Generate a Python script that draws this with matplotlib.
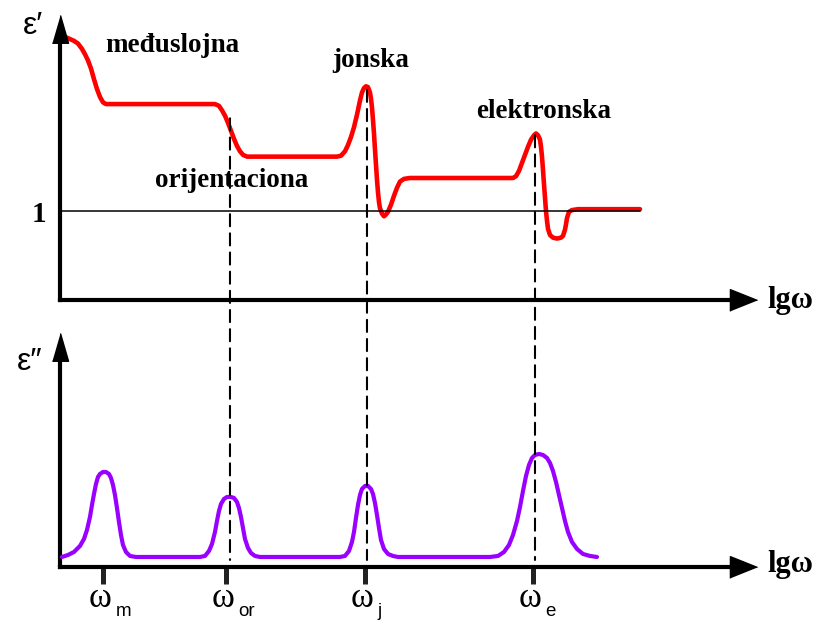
"""
    Dielectric dispersion sketch: eps' and eps'' versus lg(omega)
"""

import matplotlib
matplotlib.use("Agg")
from matplotlib import pyplot as plt
from matplotlib.patches import ConnectionPatch

# Data (lg omega in arbitrary units)

# eps' (real part), red curve
lgw_re = [0.02, 0.06, 0.10, 0.14, 0.18, 0.22, 0.25, 0.28, 0.31, 0.34, 0.37, 0.40, 0.43, 0.46, 0.50,
          1.55, 1.59, 1.62, 1.65, 1.68, 1.71, 1.74, 1.77, 1.80, 1.83, 1.87, 1.90,
          2.77, 2.81, 2.85, 2.88, 2.91, 2.94, 2.97, 3.00, 3.02, 3.04, 3.06, 3.08,
          3.10, 3.11, 3.12, 3.13, 3.14, 3.15, 3.16, 3.17, 3.18, 3.19, 3.20, 3.22,
          3.24, 3.26, 3.28, 3.31, 3.34, 3.37, 3.40, 3.44, 3.50,
          4.53, 4.56, 4.59, 4.62, 4.65, 4.68, 4.71, 4.74, 4.76, 4.78, 4.80, 4.81,
          4.82, 4.83, 4.84, 4.85, 4.86, 4.87, 4.88, 4.90, 4.93, 4.97, 5.01, 5.03,
          5.05, 5.06, 5.07, 5.09, 5.12, 5.18, 5.80]
eps_re = [2.96, 2.95, 2.93, 2.91, 2.88, 2.82, 2.76, 2.69, 2.60, 2.48, 2.37, 2.28, 2.22, 2.20, 2.20,
          2.20, 2.18, 2.13, 2.07, 1.99, 1.90, 1.81, 1.73, 1.67, 1.63, 1.61, 1.61,
          1.61, 1.62, 1.67, 1.74, 1.83, 1.94, 2.08, 2.24, 2.33, 2.38, 2.40, 2.39,
          2.33, 2.26, 2.16, 2.02, 1.87, 1.69, 1.52, 1.35, 1.21, 1.10, 1.03, 0.97,
          0.94, 0.96, 0.99, 1.07, 1.17, 1.26, 1.33, 1.36, 1.37,
          1.37, 1.39, 1.45, 1.54, 1.63, 1.72, 1.80, 1.85, 1.87, 1.85, 1.80, 1.72,
          1.61, 1.46, 1.30, 1.15, 1.00, 0.89, 0.80, 0.73, 0.70, 0.69, 0.70, 0.72,
          0.79, 0.85, 0.92, 0.99, 1.01, 1.02, 1.02]

# eps'' (imaginary part), purple curve
lgw_im = [0.02, 0.08, 0.14, 0.20, 0.24, 0.27, 0.30, 0.32, 0.34, 0.36, 0.38, 0.40, 0.43,
          0.46, 0.49, 0.51, 0.53, 0.55, 0.57, 0.59, 0.61, 0.63, 0.66, 0.70, 0.76,
          1.40, 1.45, 1.49, 1.52, 1.55, 1.57, 1.59, 1.61, 1.64, 1.67, 1.71, 1.74,
          1.77, 1.79, 1.81, 1.83, 1.85, 1.88, 1.91, 1.95, 2.00,
          2.80, 2.85, 2.89, 2.92, 2.94, 2.96, 2.98, 3.00, 3.02, 3.05, 3.08, 3.11,
          3.13, 3.15, 3.17, 3.19, 3.21, 3.24, 3.28, 3.33, 3.38,
          4.30, 4.38, 4.44, 4.49, 4.53, 4.57, 4.60, 4.63, 4.66, 4.69, 4.72, 4.75,
          4.79, 4.83, 4.87, 4.90, 4.93, 4.96, 4.99, 5.02, 5.05, 5.08, 5.12, 5.17,
          5.23, 5.30, 5.37]
eps_im = [0.10, 0.12, 0.15, 0.21, 0.28, 0.37, 0.50, 0.62, 0.73, 0.83, 0.90, 0.93, 0.95,
          0.95, 0.93, 0.89, 0.82, 0.72, 0.59, 0.45, 0.32, 0.22, 0.15, 0.11, 0.10,
          0.10, 0.11, 0.16, 0.23, 0.35, 0.46, 0.56, 0.63, 0.68, 0.70, 0.70, 0.69,
          0.65, 0.59, 0.50, 0.39, 0.28, 0.19, 0.14, 0.11, 0.10,
          0.10, 0.11, 0.16, 0.25, 0.35, 0.49, 0.62, 0.72, 0.78, 0.81, 0.81, 0.78,
          0.73, 0.64, 0.52, 0.39, 0.27, 0.18, 0.13, 0.11, 0.10,
          0.10, 0.11, 0.15, 0.22, 0.32, 0.46, 0.60, 0.76, 0.91, 1.02, 1.09, 1.12,
          1.13, 1.12, 1.09, 1.04, 0.96, 0.85, 0.72, 0.59, 0.46, 0.35, 0.25, 0.18,
          0.13, 0.11, 0.10]

# Resonance frequencies (ticks) and their labels
omega_ticks = [0.43, 1.66, 3.05, 4.73]
omega_subs = ["m", "or", "j", "e"]

# Dashed guides: x position and top end on the eps' curve
guide_x = [1.70, 3.07, 4.75]
guide_top = [2.04, 2.36, 1.85]

# Mechanism labels: (text, x, baseline y)
mechanisms = [("međuslojna", 1.12, 2.78),
              ("jonska", 3.11, 2.62),
              ("elektronska", 4.84, 2.04),
              ("orijentaciona", 1.72, 1.27)]

RED = '#ff0000'
PURPLE = '#9a00ff'
SERIF = 'Liberation Serif'
SANS = ['Liberation Sans', 'DejaVu Sans']
XMAX = 6.97

fig = plt.figure(figsize=(8.16, 6.21), dpi=100)
ax1 = fig.add_axes([0.0735, 0.5169, 0.8542, 0.4589])
ax2 = fig.add_axes([0.0735, 0.0870, 0.8542, 0.3768])

up_head = [(-0.29, -1.0), (0.29, -1.0), (0.0, 0.0)]
right_head = [(-1.0, -0.4), (-1.0, 0.4), (0.0, 0.0)]

for ax, ytop in ((ax1, 3.2), (ax2, 2.34)):
    ax.set_xlim(0, XMAX)
    ax.set_ylim(0, ytop)
    ax.patch.set_alpha(0)
    for s in ('top', 'right'):
        ax.spines[s].set_visible(False)
    ax.spines['left'].set_linewidth(3)
    ax.spines['bottom'].set_linewidth(3)
    ax.spines['left'].set_bounds(0, ytop * 0.93)
    ax.spines['bottom'].set_bounds(0, XMAX - 0.25)
    ax.set_yticks([])
    # arrow heads
    ax.plot([0], [ytop], marker=up_head, markersize=40, color='k', clip_on=False, zorder=5)
    ax.plot([XMAX], [0], marker=right_head, markersize=39, color='k', clip_on=False, zorder=5)

# Top panel
ax1.set_xticks([])
ax1.plot([0, 5.80], [1, 1], color='k', lw=1.1, zorder=4)
ax1.plot(lgw_re, eps_re, color=RED, lw=3.3, solid_joinstyle='round',
         solid_capstyle='round', zorder=3)
for text, x, y in mechanisms:
    ax1.text(x, y, text, ha='center', va='baseline', fontsize=19.5,
             family=SERIF, weight='bold')
ax1.text(-0.14, 0.88, "1", ha='right', va='baseline', fontsize=21,
         family=SERIF, weight='bold')
ax1.text(-0.27, 3.08, "ε′", ha='center', va='center', fontsize=23, family=SANS)
ax1.text(7.07, -0.09, "lgω", ha='left', va='baseline', fontsize=22,
         family=SERIF, weight='bold')

# Bottom panel
ax2.plot(lgw_im, eps_im, color=PURPLE, lw=3.0, solid_joinstyle='round',
         solid_capstyle='round', zorder=3)
ax2.set_xticks(omega_ticks)
ax2.set_xticklabels([])
ax2.tick_params(axis='x', direction='out', length=12, width=3.6, color='#222222')
for x, sub in zip(omega_ticks, omega_subs):
    ax2.annotate("ω", xy=(x, 0), xycoords='data', xytext=(-2, -28.5),
                 textcoords='offset points', ha='center', va='baseline',
                 fontsize=25, family=SERIF)
    ax2.annotate(sub, xy=(x, 0), xycoords='data', xytext=(9, -35.5),
                 textcoords='offset points', ha='left', va='baseline',
                 fontsize=13.5, family=SANS)
ax2.text(-0.30, 2.05, "ε″", ha='center', va='center', fontsize=23, family=SANS)
ax2.text(7.07, -0.05, "lgω", ha='left', va='baseline', fontsize=22,
         family=SERIF, weight='bold')

# Dashed guides through both panels
for x, y0 in zip(guide_x, guide_top):
    con = ConnectionPatch(xyA=(x, y0), coordsA=ax1.transData,
                          xyB=(x, 0.07), coordsB=ax2.transData,
                          color='k', lw=1.5, linestyle=(0, (5.8, 3.4)), zorder=6)
    fig.add_artist(con)

fig.savefig("out.png", dpi=100)
